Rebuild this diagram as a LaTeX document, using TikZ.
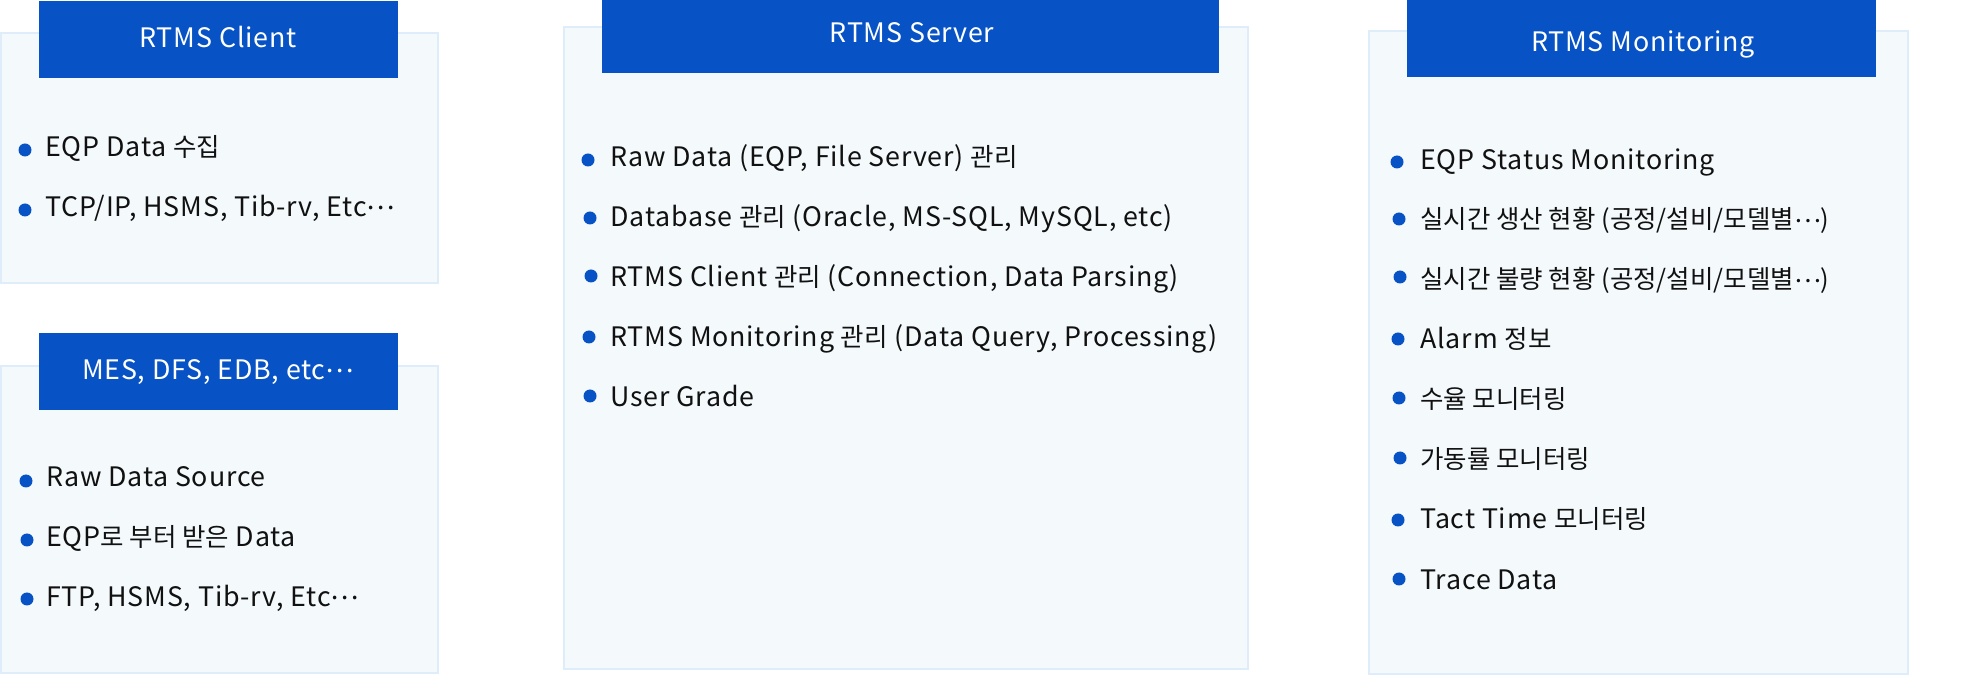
\documentclass[tikz,border=0pt]{standalone}
\usepackage{fontspec}
\setmainfont[LetterSpace=3]{Noto Sans CJK KR}
\newfontfamily\krfont[Scale=0.95]{Noto Sans CJK KR}
\newcommand{\kr}[1]{{\krfont #1}}
\newcommand{\mdots}{\raisebox{0.27em}{…}}
\usetikzlibrary{fit}
\definecolor{hdrblue}{RGB}{7,82,196}
\definecolor{panelfill}{RGB}{244,249,252}
\definecolor{panelline}{RGB}{222,237,249}
\definecolor{txt}{RGB}{17,17,17}
\tikzset{
  panel/.style={draw=panelline, fill=panelfill, line width=0.6pt, inner sep=0pt},
  header/.style={fill=hdrblue, draw=none, inner sep=0pt},
  headtxt/.style={text=white, font=\fontsize{13.4}{15}\selectfont, anchor=base, inner sep=0pt},
  itemtxt/.style={text=txt, font=\fontsize{13.4}{15}\selectfont, anchor=base west, inner sep=0pt},
  dot/.style={circle, fill=hdrblue, minimum size=6.5pt, inner sep=0pt},
}
\begin{document}
\begin{tikzpicture}[x=0.5pt,y=-0.5pt]
\useasboundingbox (0,0) rectangle (1988,689);
\fill[white] (0,0) rectangle (1988,689);

% panels
\node[panel, fit={(1,33)(438,283)}] (clientbg) {};
\node[panel, fit={(1,366)(438,673)}] (mesbg) {};
\node[panel, fit={(564,27)(1248,669)}] (serverbg) {};
\node[panel, fit={(1369,31)(1908,674)}] (monbg) {};

% headers
\node[header, fit={(39,1)(398,78)}] (clienthd) {};
\node[header, fit={(39,333)(398,410)}] (meshd) {};
\node[header, fit={(602,0)(1219,73)}] (serverhd) {};
\node[header, fit={(1407,0)(1876,77)}] (monhd) {};

\node[headtxt] (clientt) at (218,48) {RTMS Client};
\node[headtxt] (mest) at (218,380) {MES, DFS, EDB, etc\mdots};
\node[headtxt] (servert) at (912,43) {RTMS Server};
\node[headtxt] (mont) at (1643,52) {RTMS Monitoring};

% client items
\node[dot] (cd1) at (25,150) {};
\node[itemtxt] (ci1) at (45,157) {EQP Data \kr{수집}};
\node[dot] (cd2) at (25,210) {};
\node[itemtxt] (ci2) at (45,217) {TCP/IP, HSMS, Tib-rv, Etc\mdots};

% mes items
\node[dot] (md1) at (26,481) {};
\node[itemtxt] (mi1) at (46,487) {Raw Data Source};
\node[dot] (md2) at (27,540) {};
\node[itemtxt] (mi2) at (46,547) {EQP\kr{로 부터 받은} Data};
\node[dot] (md3) at (27,599) {};
\node[itemtxt] (mi3) at (46,607) {FTP, HSMS, Tib-rv, Etc\mdots};

% server items
\node[dot] (sd1) at (588,160) {};
\node[itemtxt] (si1) at (610,167) {Raw Data (EQP, File Server) \kr{관리}};
\node[dot] (sd2) at (590,218) {};
\node[itemtxt] (si2) at (610,227) {Database \kr{관리} (Oracle, MS-SQL, MySQL, etc)};
\node[dot] (sd3) at (591,276) {};
\node[itemtxt] (si3) at (610,287) {RTMS Client \kr{관리} (Connection, Data Parsing)};
\node[dot] (sd4) at (589,337) {};
\node[itemtxt] (si4) at (610,347) {RTMS Monitoring \kr{관리} (Data Query, Processing)};
\node[dot] (sd5) at (590,396) {};
\node[itemtxt] (si5) at (610,407) {User Grade};

% monitoring items
\node[dot] (nd1) at (1397,162) {};
\node[itemtxt] (ni1) at (1420,170) {EQP Status Monitoring};
\node[dot] (nd2) at (1399,219) {};
\node[itemtxt] (ni2) at (1420,229) {\kr{실시간 생산 현황 (공정/설비/모델별\mdots)}};
\node[dot] (nd3) at (1400,277) {};
\node[itemtxt] (ni3) at (1420,289) {\kr{실시간 불량 현황 (공정/설비/모델별\mdots)}};
\node[dot] (nd4) at (1398,339) {};
\node[itemtxt] (ni4) at (1420,349) {Alarm \kr{정보}};
\node[dot] (nd5) at (1399,398) {};
\node[itemtxt] (ni5) at (1420,409) {\kr{수율 모니터링}};
\node[dot] (nd6) at (1400,458) {};
\node[itemtxt] (ni6) at (1420,469) {\kr{가동률 모니터링}};
\node[dot] (nd7) at (1398,520) {};
\node[itemtxt] (ni7) at (1420,529) {Tact Time \kr{모니터링}};
\node[dot] (nd8) at (1399,579) {};
\node[itemtxt] (ni8) at (1420,589) {Trace Data};
\end{tikzpicture}
\end{document}
